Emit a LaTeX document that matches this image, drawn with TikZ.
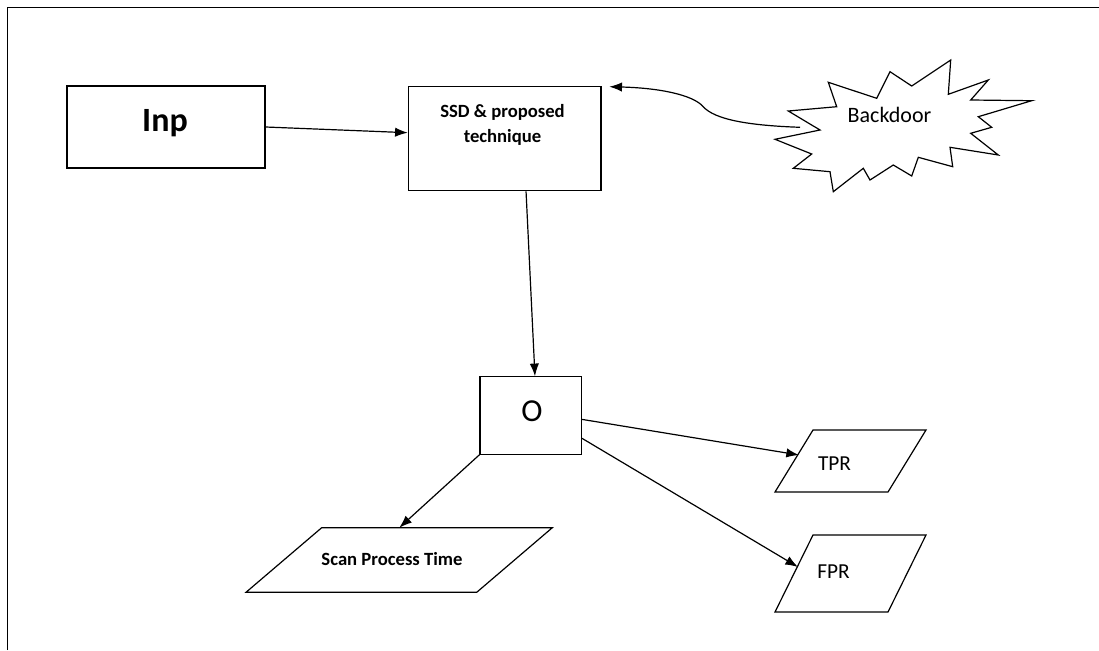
\documentclass[tikz,border=0pt]{standalone}
\usepackage{fontspec}
\setmainfont{Carlito}
\usetikzlibrary{arrows.meta}

\tikzset{every picture/.style={line width=0.75pt}}
\tikzset{
  blk/.style={draw, line width=0.9pt, inner sep=0pt},
  lbl/.style={inner sep=0.75pt},
  flow/.style={-{Latex[length=9.5pt,width=7pt]}, line width=0.9pt},
}

\begin{document}
\begin{tikzpicture}[x=0.75pt,y=0.75pt,yscale=-1,xscale=1]
    \useasboundingbox (0,0) rectangle (1099,650);
    %Straight Lines: page frame
    \draw[line width=1.1pt] (7.3,650) -- (7.3,7.3) -- (1099,7.3) ;
    %Shape: Rectangle
    \node[blk, minimum width=148.5pt, minimum height=61.5pt] (inp) at (166,127) {};
    %Shape: Rectangle
    \node[blk, minimum width=144.5pt, minimum height=78pt] (ssd) at (504.7,138.7) {};
    %Shape: Rectangle
    \node[blk, minimum width=76pt, minimum height=58pt] (out) at (530.7,415.5) {};
    %Shape: Explosion
    \draw[line width=0.9pt, fill=white] (788.3,111) -- (836.7,106.7) -- (828.3,82.3) -- (876.7,98.3) -- (890,71.7) -- (911.7,86) -- (950.7,60) -- (948.3,94.3) -- (988.3,80) -- (970.7,100) -- (1031.7,100.7) -- (978.3,116.7) -- (991.7,127.3) -- (970.7,133.3) -- (998.3,155) -- (950,147.3) -- (952.7,166.7) -- (918.3,157.3) -- (911.7,176) -- (893.3,165) -- (870,180) -- (863.3,168.3) -- (833.3,191.7) -- (830,171.7) -- (793.3,168.3) -- (811.7,154) -- (775,139.3) -- (820,130) -- cycle ;
    %Shape: Parallelogram
    \draw[line width=0.9pt] (321.7,527.7) -- (552.3,527.7) -- (476.7,592.3) -- (246,592.3) -- cycle ;
    %Shape: Parallelogram
    \draw[line width=0.9pt] (813,430) -- (926,430) -- (888,492) -- (775,492) -- cycle ;
    %Shape: Parallelogram
    \draw[line width=0.9pt] (813,535) -- (926,535) -- (888,612) -- (775,612) -- cycle ;
    % Connector ends
    \coordinate (bdstart) at (800,127.3) ;
    \coordinate (bdend) at (609.3,86.7) ;
    \coordinate (scanin) at (399.3,527.7) ;
    \coordinate (tprin) at (799,455) ;
    \coordinate (fprin) at (798,567) ;
    %Straight Lines
    \draw[flow] (inp.east) -- ([yshift=-4.5pt]ssd.west) ;
    %Straight Lines
    \draw[flow] ([xshift=16pt]ssd.south) -- ([xshift=3.2pt]out.north) ;
    %Curve Lines
    \draw[flow] (bdstart) .. controls (750,125.5) and (715,120) .. (703,106.5) .. controls (693,95) and (660,88) .. (bdend) ;
    %Straight Lines
    \draw[flow] (out.south west) -- (scanin) ;
    %Straight Lines
    \draw[flow] ([yshift=2.9pt]out.east) -- (tprin) ;
    %Straight Lines
    \draw[flow] ([yshift=17.1pt]out.east) -- (fprin) ;
    % Text Node
    \node[lbl, anchor=base, font=\bfseries\fontsize{25.5}{30}\selectfont] (inptext) at (165,131.7) {Inp};
    % Text Node
    \node[lbl, align=center, font=\bfseries\fontsize{14}{19.2}\selectfont] (ssdtext) at (502.5,125) {SSD \& proposed\\technique};
    % Text Node
    \node[lbl, anchor=base, font=\fontsize{16.5}{20}\selectfont] (bdtext) at (889.5,122.7) {Backdoor};
    % Text Node
    \node[lbl, anchor=base, font=\fontsize{24}{28}\selectfont] (outtext) at (532,421.7) {O};
    % Text Node
    \node[lbl, anchor=base, font=\bfseries\fontsize{14}{17}\selectfont] (scantext) at (392,565) {Scan Process Time};
    % Text Node
    \node[lbl, anchor=base, font=\fontsize{16}{19}\selectfont] (tprtext) at (834.5,470) {TPR};
    % Text Node
    \node[lbl, anchor=base, font=\fontsize{16}{19}\selectfont] (fprtext) at (833.5,578) {FPR};
\end{tikzpicture}
\end{document}
